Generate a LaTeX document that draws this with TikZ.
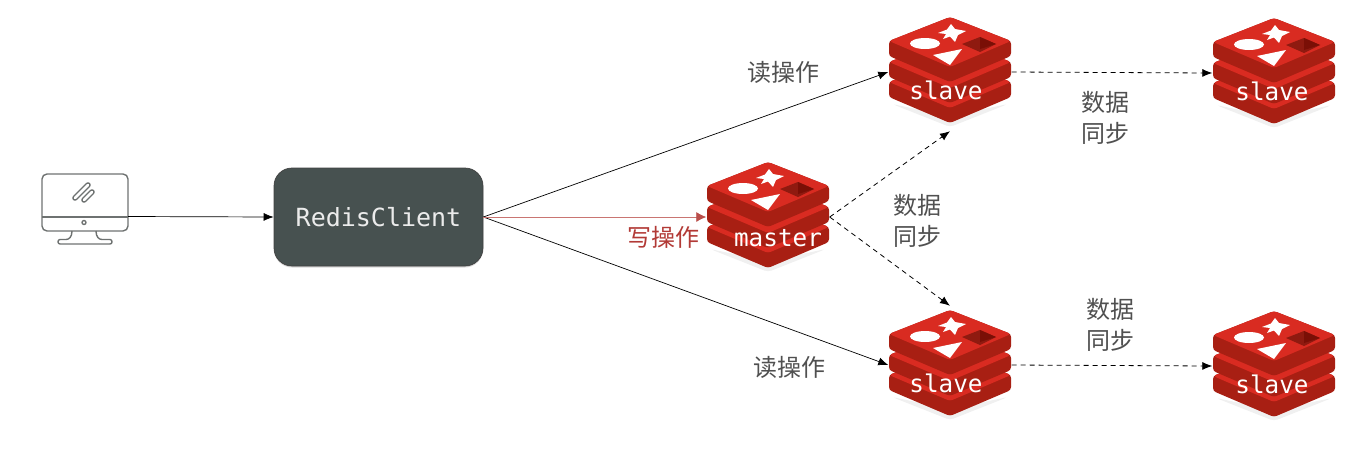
\documentclass[tikz,border=0pt]{standalone}
\usepackage{fontspec}
\setmonofont{DejaVu Sans Mono}
\newfontfamily\cjk{Noto Sans CJK SC}
\usetikzlibrary{arrows.meta,shadows}

\definecolor{redisface}{HTML}{D92B21}
\definecolor{redisside}{HTML}{A81F13}
\definecolor{redishole}{HTML}{7A0F06}
\definecolor{boxfill}{HTML}{475150}
\definecolor{iconline}{HTML}{6E7271}
\definecolor{labelgray}{HTML}{505050}
\definecolor{writered}{HTML}{B23A36}

\tikzset{
    x=1pt, y=-1pt,
    link/.style={draw=black, line width=0.7pt, -{Latex[length=10pt,width=8pt]}},
    synclink/.style={draw=black, line width=0.8pt, dash pattern=on 5pt off 4pt, -{Latex[length=10pt,width=8pt]}},
    writelink/.style={draw=writered!70!white, line width=0.8pt, -{Latex[length=10pt,width=10pt,color=writered!90!white]}},
    tag/.style={font=\cjk\fontsize{24}{31}\selectfont, text=labelgray, align=center, inner sep=0pt},
    clientbox/.style={draw=black!75, line width=0.7pt, fill=boxfill, rounded corners=18pt,
        minimum width=209pt, minimum height=98pt, inner sep=0pt, text=white!92!black,
        font=\ttfamily\fontsize{25}{30}\selectfont,
        drop shadow={opacity=0.3, shadow xshift=0pt, shadow yshift=-1.5pt}},
    pcbox/.style={minimum width=86pt, minimum height=69pt, inner sep=0pt},
    hitbox/.style={minimum width=123pt, minimum height=118pt, inner sep=0pt},
    pics/redis/.style n args={3}{code={
        \fill[black, opacity=0.06, rounded corners=4pt] (-58,34) -- (0,57) -- (58,34) -- (0,46) -- cycle;
        % stacked layers, lowest first
        \foreach \dy in {27,7,-14}{
            \fill[redisside, rounded corners=3pt] (-61,{\dy-15}) -- (0,{\dy-39}) -- (61,{\dy-15}) -- (61,\dy)
                -- (0,{\dy+26}) -- (-61,\dy) -- cycle;
            \fill[redisface, rounded corners=3pt] (-61,{\dy-15}) -- (0,{\dy-39}) -- (61,{\dy-15}) -- (0,{\dy+11}) -- cycle;
        }
        % top face symbols
        \fill[white] (-25,-26.5) ellipse (15 and 5.5);
        \fill[white] (1,-46) -- (5,-41) -- (16,-39) -- (8,-35) -- (5,-28) -- (0,-33.5) -- (-7,-31)
            -- (-4,-36) -- (-12,-37) -- (-3,-40.5) -- cycle;
        \fill[white] (-17,-15) -- (12,-21) -- (0,-5) -- cycle;
        \fill[redisside!85!black] (12,-26) -- (30,-33) -- (46,-26) -- (30,-18) -- cycle;
        \fill[redishole] (30,-33) -- (46,-26) -- (30,-21) -- cycle;
        \node[inner sep=0pt, text=white, font=\ttfamily\fontsize{24.3}{30}\selectfont] (-text) at (#2,#3) {#1};
        \node[hitbox] (-box) at (0,2) {};
    }},
}

\begin{document}
\begin{tikzpicture}
    \useasboundingbox (0,0) rectangle (1358,448);

    % computer
    \node[pcbox] (pc) at (85,216.5) {};
    \begin{scope}[iconline, line width=1.4pt, line join=round]
        \draw[rounded corners=5pt] (42,217) |- (128,174) |- (42,231) -- cycle;
        \draw[line width=1.8pt] (42,217) -- (128,217);
        \draw (84,222.5) circle (2);
        \draw[rounded corners=2pt] (72,231) .. controls (72,237) and (69,239.5) .. (64,239.5) -- (58,239.5)
            -- (58,244) -- (112,244) -- (112,239.5) -- (104,239.5)
            .. controls (99,239.5) and (96,237) .. (96,231);
        \draw[line width=5.6pt, line cap=round] (75,198) -- (88,185) (84,200) -- (92,192);
        \draw[white, line width=2.8pt, line cap=round] (75,198) -- (88,185) (84,200) -- (92,192);
    \end{scope}

    % client
    \node[clientbox] (client) at (378.5,217) {RedisClient};

    % redis servers
    \pic (master) at (768,215) {redis={master}{10}{23}};
    \pic (slaveA) at (950,70) {redis={slave}{-4}{20.5}};
    \pic (slaveB) at (1274,71) {redis={slave}{-2}{20.5}};
    \pic (slaveC) at (950,363) {redis={slave}{-4}{20.5}};
    \pic (slaveD) at (1274,364) {redis={slave}{-2}{20.5}};

    % links
    \draw[link] (pc.east) -- (client.west);
    \draw[link] (client.east) -- (slaveA-box.west);
    \draw[link] (client.east) -- (slaveC-box.west);
    \draw[writelink] (client.east) -- (master-box.west);
    \draw[synclink] (master-box.east) -- (slaveA-box.south);
    \draw[synclink] (master-box.east) -- (slaveC-box.north);
    \draw[synclink] (slaveA-box.east) -- (slaveB-box.west);
    \draw[synclink] (slaveC-box.east) -- (slaveD-box.west);

    % labels
    \node[tag] (readA) at (783,72) {读操作};
    \node[tag] (readB) at (789,367) {读操作};
    \node[tag, text=writered] (write) at (663,237) {写操作};
    \node[tag] (syncA) at (1105,118) {数据\\同步};
    \node[tag] (syncB) at (917,221) {数据\\同步};
    \node[tag] (syncC) at (1110,325) {数据\\同步};
\end{tikzpicture}
\end{document}
